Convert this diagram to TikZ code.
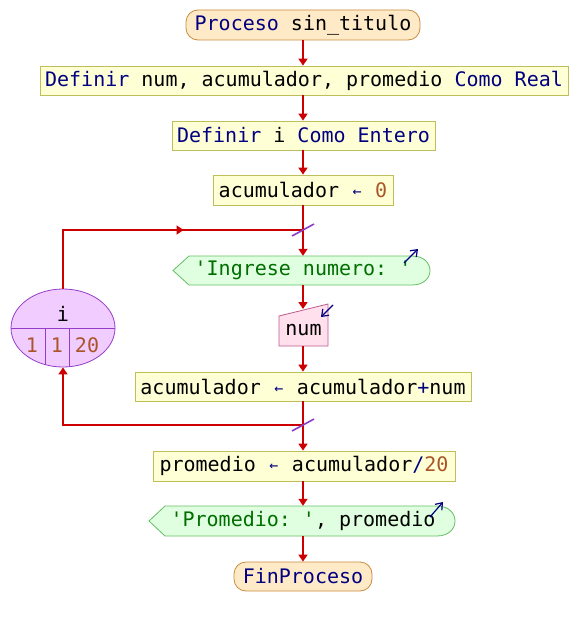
\documentclass[tikz,border=0pt]{standalone}
\usepackage{fontspec}
\setmonofont{DejaVu Sans Mono}
\usetikzlibrary{arrows.meta,shapes.geometric,decorations.markings,calc}
\definecolor{kw}{RGB}{0,0,128}
\definecolor{str}{RGB}{0,110,0}
\definecolor{numcol}{RGB}{170,85,40}
\definecolor{flowred}{RGB}{204,0,0}
\definecolor{boxf}{RGB}{255,255,214}
\definecolor{boxb}{RGB}{190,190,90}
\definecolor{stf}{RGB}{255,234,200}
\definecolor{stb}{RGB}{200,140,60}
\definecolor{outf}{RGB}{224,255,224}
\definecolor{outb}{RGB}{100,190,100}
\definecolor{inf}{RGB}{255,224,236}
\definecolor{inb}{RGB}{190,90,140}
\definecolor{elf}{RGB}{240,204,255}
\definecolor{elb}{RGB}{150,60,200}
\definecolor{slashc}{RGB}{140,60,200}
\newcommand{\kwd}[1]{\textcolor{kw}{#1}}
\newcommand{\numc}[1]{\textcolor{numcol}{#1}}
\newcommand{\strc}[1]{\textcolor{str}{#1}}
\newcommand{\asg}{\makebox[12.04pt]{\raisebox{1pt}{\textcolor{kw}{\fontsize{15}{15}\selectfont ←}}}}
\begin{document}
\begin{tikzpicture}[x=1pt,y=-1pt,
  every node/.style={font=\ttfamily\fontsize{20}{24}\selectfont, inner sep=0pt},
  proc/.style={draw=boxb, fill=boxf, line width=0.8pt, rectangle},
  term/.style={draw=stb, fill=stf, line width=0.8pt, rectangle, rounded corners=12pt},
  flow/.style={draw=flowred, line width=1.6pt, -{Triangle[width=9pt,length=7pt]}},
  flowline/.style={draw=flowred, line width=1.6pt},
  slash/.style={draw=slashc, line width=1.6pt},
  ioarrow/.style={draw=kw, line width=1.2pt, -{Straight Barb[length=6pt,width=9pt]}}]
\useasboundingbox (0,0) rectangle (577,626);

\node[term, minimum width=234pt, minimum height=30pt] (start) at (303,25) {\kwd{Proceso} sin\_titulo};
\node[proc, minimum width=528pt, minimum height=29pt] (def1) at (304,80.5) {\kwd{Definir} num, acumulador, promedio \kwd{Como Real}};
\node[proc, minimum width=263pt, minimum height=29pt] (def2) at (303.5,135.5) {\kwd{Definir} i \kwd{Como Entero}};
\node[proc, minimum width=180pt, minimum height=30pt] (a0) at (303,190) {acumulador \asg{} \numc{0}};

% output 1
\path[draw=outb, fill=outf, line width=0.8pt] (173,270.5) -- (189,256) -- (412,256) .. controls (436,256) and (436,285) .. (412,285) -- (189,285) -- cycle;
\node[minimum width=259pt, minimum height=29pt] (o1) at (303,270.5) {\strc{'Ingrese numero: '}};
\draw[ioarrow] (404,263) -- (418,249);

% input
\path[draw=inb, fill=inf, line width=0.8pt] (279,316) -- (328,304) -- (328,346) -- (279,346) -- cycle;
\node[minimum width=49pt, minimum height=42pt] (in) at (303,325) {};
\node at (303.5,330) {num};
\draw[ioarrow] (333,305) -- (321,317);

\node[proc, minimum width=336pt, minimum height=29pt] (a1) at (303,386.5) {acumulador \asg{} acumulador\kwd{+}num};
\node[proc, minimum width=302pt, minimum height=30pt] (prom) at (304,466) {promedio \asg{} acumulador\kwd{/}\numc{20}};

% output 2
\path[draw=outb, fill=outf, line width=0.8pt] (149,521) -- (165,506) -- (437,506) .. controls (461,506) and (461,536) .. (437,536) -- (165,536) -- cycle;
\node[minimum width=308pt, minimum height=30pt] (o2) at (303,521) {\strc{'Promedio: '}, promedio};
\draw[ioarrow] (430,517) -- (443,502);

\node[term, minimum width=138pt, minimum height=29pt] (fin) at (303,576.5) {\kwd{FinProceso}};

% ellipse
\node[ellipse, draw=elb, fill=elf, line width=0.8pt, minimum width=104pt, minimum height=78pt] (ell) at (63,328) {};
\begin{scope}
  \clip (63,328) ellipse [x radius=52, y radius=39];
  \draw[elb, line width=0.8pt] (11,328) -- (115,328);
  \draw[elb, line width=0.8pt] (45,328) -- (45,370);
  \draw[elb, line width=0.8pt] (69,328) -- (69,370);
\end{scope}
\node at (63,314) {i};
\node at (32,345) {\numc{1}};
\node at (57,345) {\numc{1}};
\node at (87,345) {\numc{20}};

% flow
\coordinate (m1) at (303,230);
\coordinate (m2) at (303,425);
\coordinate (inTop) at (303,309);
\draw[flow] (start.south) -- (start.south |- def1.north);
\draw[flow] (start.south |- def1.south) -- (start.south |- def2.north);
\draw[flow] (start.south |- def2.south) -- (a0.north);
\draw[flow] (a0.south) -- (o1.north);
\draw[flow] (o1.south) -- (inTop);
\draw[flow] (in.south) -- (a1.north);
\draw[flow] (a1.south) -- (a1.south |- prom.north);
\draw[flow] (a1.south |- prom.south) -- (o2.north);
\draw[flow] (o2.south) -- (fin.north);
% loop
\draw[flowline, postaction={decorate}, decoration={markings, mark=at position 0.6 with {\arrow[flowred]{Triangle[width=9pt,length=7pt]}}}] (ell.north) |- (m1);
\draw[flow] (m2) -| (ell.south);
\draw[slash] ($(m1)+(-11,6)$) -- ($(m1)+(11,-6)$);
\draw[slash] ($(m2)+(-11,6)$) -- ($(m2)+(11,-6)$);
\end{tikzpicture}
\end{document}
